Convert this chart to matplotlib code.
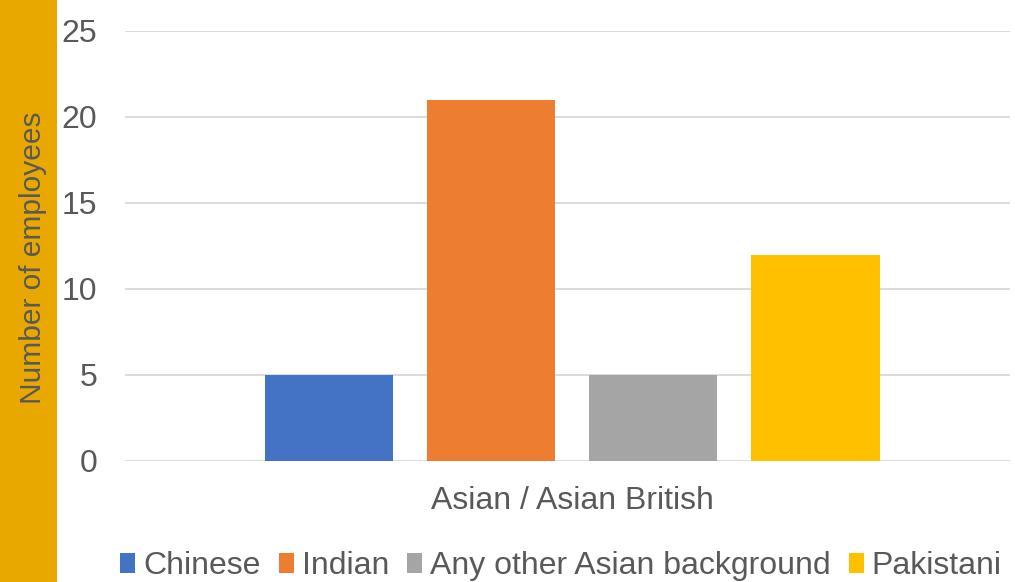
import matplotlib.pyplot as plt
from matplotlib.patches import Rectangle

categories = ["Chinese", "Indian", "Any other Asian background", "Pakistani"]
values = [5, 21, 5, 12]
colors = ["#4472C4", "#ED7D31", "#A5A5A5", "#FFC000"]
group_label = "Asian / Asian British"

plt.rcParams['font.family'] = ['Liberation Sans', 'DejaVu Sans']
text_col = "#595959"

fig = plt.figure(figsize=(10.15, 5.82), dpi=100)
fig.patches.append(Rectangle((0, 0), 57 / 1015, 1, transform=fig.transFigure,
                             facecolor="#E8A800", edgecolor="none", zorder=0))

ax = fig.add_axes([125 / 1015, 1 - 461 / 582, 885 / 1015, 430 / 582])

# bars side by side within the single category
for i, (cat, val, col) in enumerate(zip(categories, values, colors)):
    ax.bar(i - 1.5, val, width=0.79, color=col, label=cat, zorder=2)

ax.set_xlim(-2.76, 2.70)
ax.set_ylim(0, 25)
ax.set_yticks(range(0, 26, 5))
ax.yaxis.grid(True, color="#D9D9D9", linewidth=1.3, zorder=0)
ax.set_axisbelow(True)
for s in ax.spines.values():
    s.set_visible(False)
ax.tick_params(axis='y', length=0, pad=20, labelsize=23, labelcolor=text_col)
ax.set_xticks([0], [group_label])
ax.tick_params(axis='x', length=0, pad=18, labelsize=23, labelcolor=text_col)

fig.text(33 / 1015, 1 - 258 / 582, "Number of employees", rotation=90,
         ha='center', va='center', fontsize=21.5, color=text_col)

fig.legend(loc='lower center', bbox_to_anchor=(561 / 1015, -0.048), ncol=4,
           frameon=False, handlelength=0.47, handleheight=0.6, handletextpad=0.25,
           columnspacing=0.56, prop={'size': 23}, labelcolor=text_col)

fig.savefig("out.png", dpi=100)
